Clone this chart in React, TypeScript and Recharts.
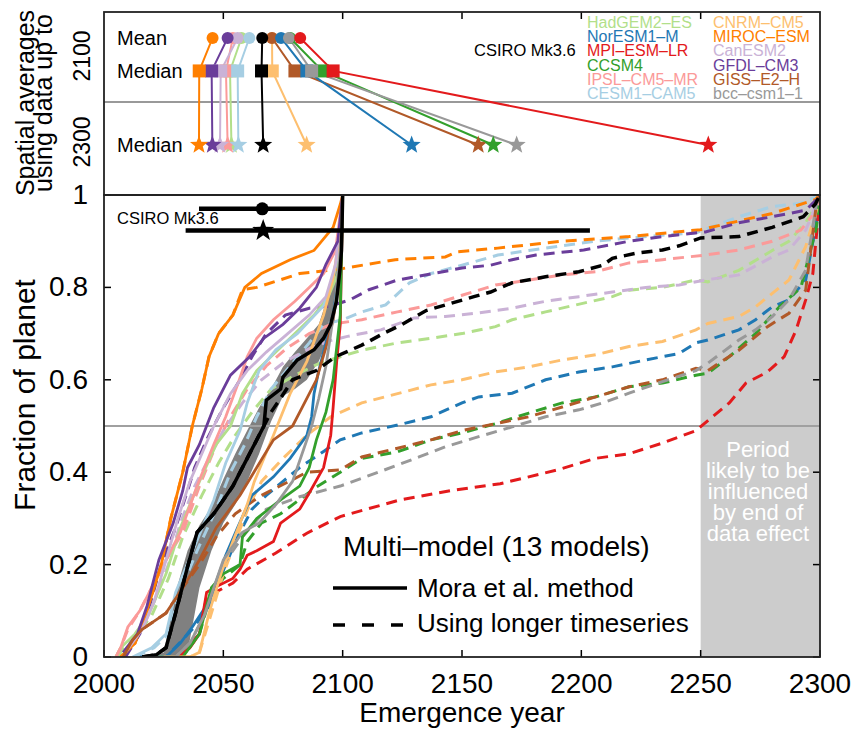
import React from "react";
import { ComposedChart, Line, Area, XAxis, YAxis, ReferenceArea, ReferenceLine } from "recharts";

const FONT = "'Liberation Sans', Arial, Helvetica, sans-serif";
const W = 855;
const H = 730;

type Pt = [number, number];

// ---- axes ----
const X_TICKS = [2000, 2050, 2100, 2150, 2200, 2250, 2300];
const TOP_TICKS = [2050, 2100, 2150, 2200, 2250];
const Y_TICKS = [0, 0.2, 0.4, 0.6, 0.8, 1];

// ---- models (legend order) ----
const MODELS = [
  "HadGEM2–ES", "NorESM1–M", "MPI–ESM–LR", "CCSM4", "IPSL–CM5–MR", "CESM1–CAM5",
  "CNRM–CM5", "MIROC–ESM", "CanESM2", "GFDL–CM3", "GISS–E2–H", "bcc–csm1–1",
];
const COLORS = [
  "#b2df8a", "#1f78b4", "#e31a1c", "#33a02c", "#fb9a99", "#a6cee3",
  "#fdbf6f", "#ff7f00", "#cab2d6", "#6a3d9a", "#b15928", "#999999",
];

// ---- top panel: spatial averages (emergence year) ----
const ROW_LABELS = ["Mean", "Median", "Median"];
const ROW_Y = [0.858, 0.678, 0.273];
const MEAN_2100 = [2057.6, 2074.2, 2082.2, 2078.0, 2054.0, 2060.9, 2070.4, 2045.5, 2056.0, 2051.8, 2070.4, 2077.5];
const MEDIAN_2100 = [2052.8, 2085.0, 2096.0, 2091.5, 2051.1, 2056.0, 2070.5, 2039.9, 2048.9, 2045.1, 2080.0, 2087.0];
const MEDIAN_2300 = [2053.4, 2128.9, 2253.2, 2163.1, 2051.8, 2056.3, 2084.9, 2039.8, 2048.6, 2045.4, 2156.8, 2172.9];
const CSIRO_TOP = [2066.3, 2066.0, 2066.7];
const TOP_DRAW_ORDER = [0, 4, 8, 5, 9, 7, 6, 10, 1, 3, 11, 2];

// ---- CSIRO ranges in lower panel (start, marker, end) ----
const CSIRO_MEAN_RANGE = [2039.8, 2066.3, 2093.0];
const CSIRO_MEDIAN_RANGE = [2034.2, 2066.7, 2203.6];
const CSIRO_ROWS = [0.97, 0.923];

// ---- fraction of planet, Mora et al. method (data to 2100) ----
const HADGEM_SOLID: Pt[] = [[2005, 0], [2007, 0.02], [2013, 0.05], [2019, 0.095], [2026, 0.18], [2032, 0.28], [2040, 0.38], [2047, 0.46], [2053, 0.5], [2058, 0.57], [2064, 0.62], [2072, 0.66], [2080, 0.7], [2088, 0.74], [2094, 0.78], [2098, 0.83], [2100, 1]];
const NORESM_SOLID: Pt[] = [[2015, 0], [2026, 0.0], [2032, 0.03], [2037, 0.065], [2044, 0.12], [2051, 0.22], [2056, 0.28], [2062, 0.35], [2071, 0.39], [2078, 0.43], [2085, 0.48], [2087, 0.52], [2088, 0.57], [2090, 0.62], [2093, 0.68], [2096, 0.74], [2099, 0.85], [2100, 1]];
const MPI_SOLID: Pt[] = [[2025, 0], [2031, 0.0], [2036, 0.02], [2040, 0.05], [2043, 0.14], [2048, 0.155], [2054, 0.17], [2057, 0.19], [2060, 0.22], [2064, 0.23], [2071, 0.25], [2074, 0.29], [2082, 0.32], [2086, 0.355], [2092, 0.41], [2095, 0.48], [2096, 0.54], [2097.5, 0.64], [2099, 0.72], [2100, 1]];
const CCSM4_SOLID: Pt[] = [[2022, 0], [2033, 0.0], [2040, 0.05], [2045, 0.15], [2050, 0.18], [2057, 0.2], [2058, 0.26], [2064, 0.3], [2074, 0.34], [2082, 0.37], [2086, 0.41], [2089, 0.47], [2093, 0.53], [2096, 0.6], [2097.5, 0.67], [2099, 0.74], [2100, 1]];
const IPSL_SOLID: Pt[] = [[2005, 0], [2007, 0.02], [2010, 0.065], [2015, 0.1], [2020, 0.15], [2026, 0.21], [2032, 0.27], [2039, 0.37], [2046, 0.46], [2051, 0.52], [2056, 0.59], [2060, 0.65], [2064, 0.69], [2071, 0.73], [2080, 0.77], [2086, 0.8], [2092, 0.83], [2097, 0.88], [2100, 1]];
const CESM_SOLID: Pt[] = [[2012, 0], [2020, 0.02], [2026, 0.05], [2030, 0.14], [2038, 0.24], [2046, 0.34], [2051, 0.42], [2057, 0.49], [2060, 0.55], [2065, 0.62], [2072, 0.665], [2081, 0.7], [2092, 0.76], [2096, 0.82], [2099, 0.9], [2100, 1]];
const CNRM_SOLID: Pt[] = [[2025, 0], [2036, 0.0], [2040, 0.01], [2044, 0.095], [2049, 0.18], [2054, 0.25], [2060, 0.33], [2063, 0.38], [2071, 0.48], [2078, 0.57], [2085, 0.64], [2092, 0.74], [2096, 0.82], [2099, 0.92], [2100, 1]];
const MIROC_SOLID: Pt[] = [[2007, 0], [2013, 0.03], [2018, 0.1], [2024, 0.2], [2028, 0.3], [2033, 0.4], [2037, 0.5], [2041, 0.58], [2044, 0.65], [2048, 0.7], [2054, 0.74], [2059, 0.8], [2066, 0.83], [2078, 0.86], [2088, 0.88], [2096, 0.93], [2099, 0.98], [2100, 1]];
const CANESM_SOLID: Pt[] = [[2009, 0.01], [2016, 0.06], [2021, 0.12], [2026, 0.21], [2031, 0.3], [2036, 0.38], [2041, 0.44], [2046, 0.5], [2053, 0.57], [2060, 0.62], [2068, 0.66], [2077, 0.7], [2086, 0.74], [2093, 0.78], [2097, 0.85], [2100, 1]];
const GFDL_SOLID: Pt[] = [[2008, 0.01], [2014, 0.05], [2018, 0.11], [2023, 0.21], [2029, 0.29], [2033, 0.36], [2035, 0.41], [2040, 0.46], [2046, 0.54], [2053, 0.61], [2061, 0.65], [2067, 0.69], [2075, 0.72], [2082, 0.755], [2089, 0.8], [2093, 0.85], [2098, 0.9], [2100, 1]];
const GISS_SOLID: Pt[] = [[2008, 0], [2012, 0.037], [2016, 0.06], [2026, 0.095], [2033, 0.15], [2040, 0.21], [2047, 0.28], [2057, 0.35], [2064, 0.41], [2071, 0.47], [2079, 0.5], [2083, 0.54], [2089, 0.6], [2093, 0.67], [2096, 0.73], [2098, 0.8], [2099, 0.86], [2100, 1]];
const BCC_SOLID: Pt[] = [[2020, 0], [2030, 0.0], [2036, 0.03], [2042, 0.09], [2050, 0.21], [2058, 0.27], [2065, 0.29], [2072, 0.33], [2079, 0.38], [2083, 0.44], [2087, 0.5], [2090, 0.56], [2093, 0.63], [2095, 0.7], [2097, 0.77], [2099, 0.88], [2100, 1]];
const MULTI_SOLID: Pt[] = [[2016, 0], [2022, 0.005], [2026, 0.02], [2030, 0.095], [2035, 0.195], [2039, 0.27], [2046, 0.31], [2054, 0.37], [2060, 0.43], [2067, 0.5], [2068, 0.556], [2074, 0.58], [2075, 0.606], [2081, 0.643], [2088, 0.665], [2092, 0.69], [2095, 0.72], [2097.4, 0.77], [2099, 0.845], [2099.5, 0.88], [2100, 1]];

// ---- fraction of planet, longer timeseries (data to 2300) ----
const HADGEM_DASHED: Pt[] = [[2006, 0], [2008, 0.02], [2014, 0.05], [2020, 0.09], [2027, 0.17], [2033, 0.26], [2041, 0.35], [2048, 0.42], [2055, 0.48], [2062, 0.53], [2070, 0.58], [2080, 0.61], [2090, 0.635], [2099, 0.65], [2108, 0.664], [2123, 0.68], [2137, 0.69], [2150, 0.7], [2164, 0.715], [2171, 0.73], [2185, 0.747], [2201, 0.766], [2213, 0.78], [2220, 0.794], [2234, 0.8], [2248, 0.816], [2253, 0.812], [2266, 0.837], [2280, 0.88], [2287, 0.9], [2294, 0.94], [2298.5, 0.98], [2300, 1]];
const NORESM_DASHED: Pt[] = [[2015, 0], [2026, 0.0], [2037, 0.06], [2044, 0.11], [2051, 0.2], [2056, 0.26], [2062, 0.32], [2068, 0.35], [2075, 0.38], [2082, 0.41], [2092, 0.445], [2099, 0.47], [2108, 0.485], [2123, 0.502], [2137, 0.52], [2150, 0.55], [2157, 0.563], [2171, 0.571], [2185, 0.6], [2199, 0.617], [2213, 0.628], [2227, 0.643], [2241, 0.657], [2248, 0.68], [2253, 0.686], [2266, 0.708], [2273, 0.73], [2280, 0.758], [2287, 0.773], [2294, 0.816], [2298.5, 0.94], [2300, 1]];
const MPI_DASHED: Pt[] = [[2025, 0], [2031, 0.0], [2040, 0.05], [2043, 0.13], [2054, 0.16], [2060, 0.19], [2072, 0.225], [2085, 0.268], [2099, 0.304], [2124, 0.34], [2145, 0.36], [2166, 0.375], [2190, 0.405], [2206, 0.43], [2220, 0.44], [2234, 0.463], [2248, 0.49], [2255, 0.52], [2262, 0.55], [2269, 0.593], [2278, 0.617], [2285, 0.65], [2290, 0.708], [2294, 0.773], [2297, 0.83], [2299, 0.94], [2300, 1]];
const CCSM4_DASHED: Pt[] = [[2022, 0], [2033, 0.0], [2040, 0.05], [2045, 0.14], [2050, 0.17], [2057, 0.2], [2060, 0.25], [2066, 0.29], [2074, 0.31], [2089, 0.368], [2099, 0.4], [2108, 0.43], [2123, 0.444], [2137, 0.47], [2150, 0.485], [2164, 0.505], [2178, 0.528], [2192, 0.55], [2206, 0.563], [2220, 0.585], [2234, 0.593], [2248, 0.61], [2253, 0.614], [2262, 0.65], [2273, 0.7], [2283, 0.758], [2292, 0.8], [2298.5, 0.93], [2300, 1]];
const IPSL_DASHED: Pt[] = [[2005, 0], [2007, 0.02], [2010, 0.06], [2015, 0.1], [2020, 0.15], [2026, 0.21], [2033, 0.27], [2040, 0.37], [2047, 0.46], [2053, 0.52], [2060, 0.58], [2068, 0.63], [2077, 0.67], [2086, 0.7], [2095, 0.72], [2108, 0.73], [2123, 0.747], [2137, 0.762], [2150, 0.783], [2164, 0.805], [2178, 0.816], [2192, 0.827], [2206, 0.834], [2220, 0.853], [2234, 0.86], [2252, 0.87], [2266, 0.881], [2280, 0.9], [2292, 0.924], [2298.5, 0.967], [2300, 1]];
const CESM_DASHED: Pt[] = [[2013, 0], [2021, 0.02], [2027, 0.05], [2031, 0.13], [2039, 0.23], [2047, 0.32], [2053, 0.4], [2059, 0.46], [2064, 0.52], [2070, 0.58], [2078, 0.63], [2086, 0.68], [2092, 0.72], [2100, 0.73], [2108, 0.747], [2118, 0.762], [2128, 0.81], [2137, 0.83], [2150, 0.848], [2165, 0.87], [2178, 0.88], [2192, 0.89], [2206, 0.9], [2220, 0.907], [2234, 0.913], [2248, 0.918], [2266, 0.953], [2280, 0.975], [2292, 0.982], [2300, 1]];
const CNRM_DASHED: Pt[] = [[2025, 0], [2036, 0.0], [2040, 0.01], [2045, 0.095], [2050, 0.18], [2055, 0.25], [2061, 0.33], [2066, 0.38], [2075, 0.43], [2085, 0.48], [2095, 0.52], [2108, 0.55], [2123, 0.57], [2137, 0.589], [2150, 0.6], [2164, 0.617], [2178, 0.628], [2192, 0.643], [2206, 0.654], [2220, 0.672], [2234, 0.683], [2248, 0.708], [2253, 0.722], [2266, 0.737], [2273, 0.758], [2280, 0.787], [2287, 0.816], [2294, 0.888], [2298.5, 0.967], [2300, 1]];
const MIROC_DASHED: Pt[] = [[2007, 0], [2013, 0.03], [2018, 0.1], [2024, 0.2], [2028, 0.3], [2033, 0.4], [2037, 0.5], [2041, 0.58], [2044, 0.65], [2048, 0.7], [2054, 0.74], [2058, 0.795], [2064, 0.8], [2082, 0.83], [2099, 0.84], [2122, 0.86], [2143, 0.866], [2148, 0.877], [2165, 0.885], [2192, 0.9], [2220, 0.91], [2250, 0.925], [2280, 0.96], [2298, 0.99], [2300, 1]];
const CANESM_DASHED: Pt[] = [[2009, 0.01], [2016, 0.06], [2021, 0.12], [2027, 0.2], [2032, 0.29], [2038, 0.37], [2044, 0.43], [2050, 0.49], [2058, 0.55], [2066, 0.6], [2076, 0.64], [2087, 0.67], [2095, 0.685], [2102, 0.694], [2116, 0.708], [2130, 0.734], [2143, 0.737], [2157, 0.745], [2171, 0.755], [2185, 0.77], [2199, 0.78], [2213, 0.79], [2227, 0.8], [2241, 0.805], [2252, 0.816], [2266, 0.827], [2280, 0.866], [2287, 0.881], [2294, 0.924], [2298.5, 0.98], [2300, 1]];
const GFDL_DASHED: Pt[] = [[2009, 0.0], [2015, 0.05], [2019, 0.11], [2024, 0.2], [2030, 0.28], [2035, 0.36], [2038, 0.41], [2043, 0.47], [2050, 0.54], [2057, 0.6], [2062, 0.65], [2068, 0.7], [2076, 0.74], [2086, 0.755], [2095, 0.76], [2103, 0.773], [2111, 0.795], [2123, 0.816], [2142, 0.834], [2150, 0.842], [2162, 0.848], [2171, 0.86], [2181, 0.87], [2201, 0.881], [2220, 0.9], [2234, 0.91], [2252, 0.92], [2266, 0.94], [2280, 0.953], [2294, 0.967], [2298.5, 0.99], [2300, 1]];
const GISS_DASHED: Pt[] = [[2008, 0], [2012, 0.037], [2016, 0.06], [2026, 0.095], [2033, 0.15], [2040, 0.2], [2047, 0.26], [2055, 0.31], [2065, 0.347], [2076, 0.376], [2085, 0.4], [2099, 0.405], [2108, 0.433], [2123, 0.452], [2137, 0.47], [2150, 0.49], [2164, 0.505], [2178, 0.52], [2192, 0.541], [2206, 0.563], [2220, 0.585], [2234, 0.6], [2248, 0.625], [2253, 0.62], [2266, 0.664], [2278, 0.715], [2287, 0.744], [2294, 0.794], [2298.5, 0.98], [2300, 1]];
const BCC_DASHED: Pt[] = [[2020, 0], [2030, 0.0], [2036, 0.03], [2042, 0.09], [2050, 0.2], [2058, 0.26], [2068, 0.32], [2082, 0.347], [2099, 0.37], [2115, 0.4], [2132, 0.433], [2143, 0.455], [2157, 0.477], [2171, 0.498], [2185, 0.52], [2199, 0.535], [2209, 0.55], [2220, 0.571], [2234, 0.596], [2248, 0.62], [2253, 0.636], [2266, 0.686], [2273, 0.708], [2280, 0.737], [2287, 0.773], [2294, 0.837], [2298.5, 0.98], [2300, 1]];
const MULTI_DASHED: Pt[] = [[2016, 0], [2022, 0.005], [2026, 0.02], [2030, 0.095], [2035, 0.195], [2039, 0.27], [2046, 0.31], [2054, 0.37], [2060, 0.43], [2067, 0.5], [2070, 0.53], [2074, 0.56], [2079, 0.6], [2089, 0.62], [2097, 0.65], [2108, 0.675], [2117, 0.7], [2125, 0.72], [2135, 0.75], [2143, 0.762], [2155, 0.78], [2162, 0.79], [2171, 0.81], [2185, 0.823], [2199, 0.834], [2209, 0.848], [2213, 0.863], [2223, 0.874], [2234, 0.881], [2241, 0.89], [2250, 0.907], [2266, 0.91], [2280, 0.93], [2293, 0.953], [2298, 0.98], [2300, 1]];

// multi-model spread (grey band) around the Mora-method curve
const BAND_YEARS = [2020, 2025, 2030, 2035, 2040, 2045, 2050, 2055, 2060, 2065, 2070, 2075, 2080, 2085, 2090, 2095, 2098, 2100];
const BAND_LOW = [0, 0, 0, 0.01, 0.15, 0.23, 0.29, 0.33, 0.38, 0.44, 0.51, 0.565, 0.58, 0.6, 0.64, 0.7, 0.8, 0.9];
const BAND_HIGH = [0, 0.01, 0.14, 0.23, 0.285, 0.325, 0.385, 0.44, 0.49, 0.54, 0.58, 0.628, 0.66, 0.69, 0.72, 0.8, 0.88, 0.95];

const SOLID = [HADGEM_SOLID, NORESM_SOLID, MPI_SOLID, CCSM4_SOLID, IPSL_SOLID, CESM_SOLID, CNRM_SOLID, MIROC_SOLID, CANESM_SOLID, GFDL_SOLID, GISS_SOLID, BCC_SOLID];
const DASHED = [HADGEM_DASHED, NORESM_DASHED, MPI_DASHED, CCSM4_DASHED, IPSL_DASHED, CESM_DASHED, CNRM_DASHED, MIROC_DASHED, CANESM_DASHED, GFDL_DASHED, GISS_DASHED, BCC_DASHED];

const toRows = (c: Pt[]) => c.map(([x, y]) => ({ x, y }));
const BAND_ROWS = BAND_YEARS.map((x, i) => ({ x, band: [BAND_LOW[i], BAND_HIGH[i]] }));

function starPoints(cx: number, cy: number, R: number, r: number) {
  const pts: string[] = [];
  for (let i = 0; i < 10; i++) {
    const a = -Math.PI / 2 + (i * Math.PI) / 5;
    const rad = i % 2 === 0 ? R : r;
    pts.push(`${cx + rad * Math.cos(a)},${cy + rad * Math.sin(a)}`);
  }
  return pts.join(" ");
}

// inward ticks (axis boxes have size so that recharts draws them; labels placed by hand)
const BottomTick = (p: any) => (
  <g>
    <line x1={p.x} y1={p.y} x2={p.x} y2={p.y - 7} stroke="#000" strokeWidth={1.5} />
    <text x={p.x} y={p.y + 36} textAnchor="middle" fontSize={28} fontFamily={FONT} fill="#000">
      {p.payload.value}
    </text>
  </g>
);
const LeftTick = (p: any) => (
  <g>
    <line x1={p.x} y1={p.y} x2={p.x + 7} y2={p.y} stroke="#000" strokeWidth={1.5} />
    <text x={p.x - 16} y={p.y + 9} textAnchor="end" fontSize={28} fontFamily={FONT} fill="#000">
      {String(p.payload.value)}
    </text>
  </g>
);
const RightTick = (p: any) => <line x1={p.x} y1={p.y} x2={p.x - 7} y2={p.y} stroke="#000" strokeWidth={1.5} />;
const TopTick = (p: any) => <line x1={p.x} y1={p.y} x2={p.x} y2={p.y + 7} stroke="#000" strokeWidth={1.5} />;
const RowTick = (p: any) => (
  <text x={p.x + 13} y={p.y + 7} textAnchor="start" fontSize={20} fontFamily={FONT} fill="#000">
    {ROW_LABELS[ROW_Y.indexOf(p.payload.value)]}
  </text>
);

const topDot = (color: string) => (p: any) => {
  const { cx, cy, index } = p;
  if (index === 0) return <circle key={`c-${color}`} cx={cx} cy={cy} r={6} fill={color} />;
  if (index === 1) return <rect key={`s-${color}`} x={cx - 6.5} y={cy - 6.5} width={13} height={13} fill={color} />;
  return <polygon key={`p-${color}`} points={starPoints(cx, cy, 9.5, 4)} fill={color} />;
};

const csiroDot = (kind: "circle" | "star") => (p: any) => {
  if (p.index !== 1) return <g key={`e-${kind}-${p.index}`} />;
  return kind === "circle" ? (
    <circle key={`m-${kind}`} cx={p.cx} cy={p.cy} r={6.5} fill="#000" />
  ) : (
    <polygon key={`m-${kind}`} points={starPoints(p.cx, p.cy, 11.5, 4.8)} fill="#000" />
  );
};

const topRows = (i: number) => [
  { x: MEAN_2100[i], y: ROW_Y[0] },
  { x: MEDIAN_2100[i], y: ROW_Y[1] },
  { x: MEDIAN_2300[i], y: ROW_Y[2] },
];

const LEGEND_LEFT = MODELS.slice(0, 6);
const LEGEND_RIGHT = MODELS.slice(6);
const PERIOD_TEXT = ["Period", "likely to be", "influenced", "by end of", "data effect"];

export default function App() {
  return (
    <div style={{ position: "relative", width: W, height: H, background: "#fff", fontFamily: FONT }}>
      <style>{`body{margin:0}`}</style>

      {/* upper panel: spatial averages */}
      <div style={{ position: "absolute", left: 0, top: 0 }}>
        <ComposedChart width={W} height={200} margin={{ top: 2, right: 35, bottom: 5, left: 44 }}>
          <XAxis type="number" dataKey="x" orientation="top" domain={[2000, 2300]} ticks={TOP_TICKS} interval={0}
            height={10} axisLine={false} tickLine={false} tickSize={0} tickMargin={0} tick={TopTick} allowDataOverflow />
          <YAxis type="number" dataKey="y" domain={[0, 1]} ticks={ROW_Y} interval={0} width={60}
            axisLine={false} tickLine={false} tickSize={0} tickMargin={0} tick={RowTick} allowDataOverflow />
          <ReferenceLine y={0.508} stroke="#999" strokeWidth={2} />
          {TOP_DRAW_ORDER.map((i) => (
            <Line key={MODELS[i]} data={topRows(i)} dataKey="y" type="linear" stroke={COLORS[i]} strokeWidth={2}
              dot={topDot(COLORS[i])} activeDot={false} isAnimationActive={false} />
          ))}
          <Line data={CSIRO_TOP.map((x, k) => ({ x, y: ROW_Y[k] }))} dataKey="y" type="linear" stroke="#000"
            strokeWidth={2} dot={topDot("#000")} activeDot={false} isAnimationActive={false} />
        </ComposedChart>
      </div>

      {/* lower panel: fraction of planet */}
      <div style={{ position: "absolute", left: 0, top: 0 }}>
        <ComposedChart width={W} height={H} data={BAND_ROWS} margin={{ top: 195, right: 25, bottom: 33, left: 44 }}>
          <XAxis type="number" dataKey="x" domain={[2000, 2300]} ticks={X_TICKS} interval={0} height={40}
            axisLine={false} tickLine={false} tickSize={0} tickMargin={0} tick={BottomTick} allowDataOverflow />
          <YAxis type="number" domain={[0, 1]} ticks={Y_TICKS} interval={0} width={60}
            axisLine={false} tickLine={false} tickSize={0} tickMargin={0} tick={LeftTick} allowDataOverflow />
          <YAxis yAxisId="r" orientation="right" type="number" domain={[0, 1]} ticks={Y_TICKS} interval={0} width={10}
            axisLine={false} tickLine={false} tickSize={0} tickMargin={0} tick={RightTick} allowDataOverflow />
          <ReferenceArea x1={2250} x2={2300} y1={0} y2={1} fill="#cccccc" fillOpacity={1} stroke="none" />
          <ReferenceLine y={0.5} stroke="#a0a0a0" strokeWidth={2} />
          <Area yAxisId="r" dataKey="band" type="linear" stroke="none" fill="#808080" fillOpacity={1}
            isAnimationActive={false} activeDot={false} />
          {DASHED.map((c, i) => (
            <Line key={`d-${MODELS[i]}`} data={toRows(c)} dataKey="y" type="linear" stroke={COLORS[i]} strokeWidth={3}
              strokeDasharray="11 7" dot={false} activeDot={false} isAnimationActive={false} />
          ))}
          {SOLID.map((c, i) => (
            <Line key={`s-${MODELS[i]}`} data={toRows(c)} dataKey="y" type="linear" stroke={COLORS[i]} strokeWidth={2.8}
              dot={false} activeDot={false} isAnimationActive={false} />
          ))}
          <Line data={toRows(MULTI_DASHED)} dataKey="y" type="linear" stroke="#000" strokeWidth={3.5}
            strokeDasharray="11 7" dot={false} activeDot={false} isAnimationActive={false} />
          <Line data={toRows(MULTI_SOLID)} dataKey="y" type="linear" stroke="#000" strokeWidth={3.5}
            dot={false} activeDot={false} isAnimationActive={false} />
          <Line data={CSIRO_MEAN_RANGE.map((x) => ({ x, y: CSIRO_ROWS[0] }))} dataKey="y" type="linear" stroke="#000"
            strokeWidth={4.5} dot={csiroDot("circle")} activeDot={false} isAnimationActive={false} />
          <Line data={CSIRO_MEDIAN_RANGE.map((x) => ({ x, y: CSIRO_ROWS[1] }))} dataKey="y" type="linear" stroke="#000"
            strokeWidth={4.5} dot={csiroDot("star")} activeDot={false} isAnimationActive={false} />
        </ComposedChart>
      </div>

      {/* frames, labels and legends */}
      <svg width={W} height={H} style={{ position: "absolute", left: 0, top: 0, pointerEvents: "none" }} fontFamily={FONT}>
        <rect x={104} y={12} width={716} height={183} fill="none" stroke="#222" strokeWidth={1.8} />
        <rect x={104} y={195} width={716} height={462} fill="none" stroke="#222" strokeWidth={1.8} />

        <text transform="rotate(-90 34 103)" x={34} y={103} textAnchor="middle" fontSize={25}>Spatial averages</text>
        <text transform="rotate(-90 52 103)" x={52} y={103} textAnchor="middle" fontSize={25}>using data up to</text>
        <text transform="rotate(-90 90 56)" x={90} y={56} textAnchor="middle" fontSize={23}>2100</text>
        <text transform="rotate(-90 90 142)" x={90} y={142} textAnchor="middle" fontSize={23}>2300</text>
        <text transform="rotate(-90 35 395)" x={35} y={395} textAnchor="middle" fontSize={30}>Fraction of planet</text>
        <text x={462} y={722} textAnchor="middle" fontSize={28}>Emergence year</text>

        {LEGEND_LEFT.map((n, k) => (
          <text key={n} x={587} y={28 + k * 14.2} fontSize={16} fill={COLORS[k]}>{n}</text>
        ))}
        {LEGEND_RIGHT.map((n, k) => (
          <text key={n} x={713} y={28 + k * 14.2} fontSize={16} fill={COLORS[k + 6]}>{n}</text>
        ))}
        <text x={474} y={56} fontSize={16.5} fill="#000">CSIRO Mk3.6</text>
        <text x={117} y={224} fontSize={16.5} fill="#000">CSIRO Mk3.6</text>

        <text x={343} y={556} fontSize={28} fill="#000">Multi–model (13 models)</text>
        <line x1={333} y1={588} x2={407} y2={588} stroke="#000" strokeWidth={3.5} />
        <text x={417} y={597} fontSize={26} fill="#000">Mora et al. method</text>
        <line x1={333} y1={625} x2={410} y2={625} stroke="#000" strokeWidth={3.5} strokeDasharray="12 17" />
        <text x={417} y={632} fontSize={26} fill="#000">Using longer timeseries</text>

        {PERIOD_TEXT.map((t, k) => (
          <text key={t} x={758} y={457 + k * 21} textAnchor="middle" fontSize={22} fill="#fff">{t}</text>
        ))}
      </svg>
    </div>
  );
}
